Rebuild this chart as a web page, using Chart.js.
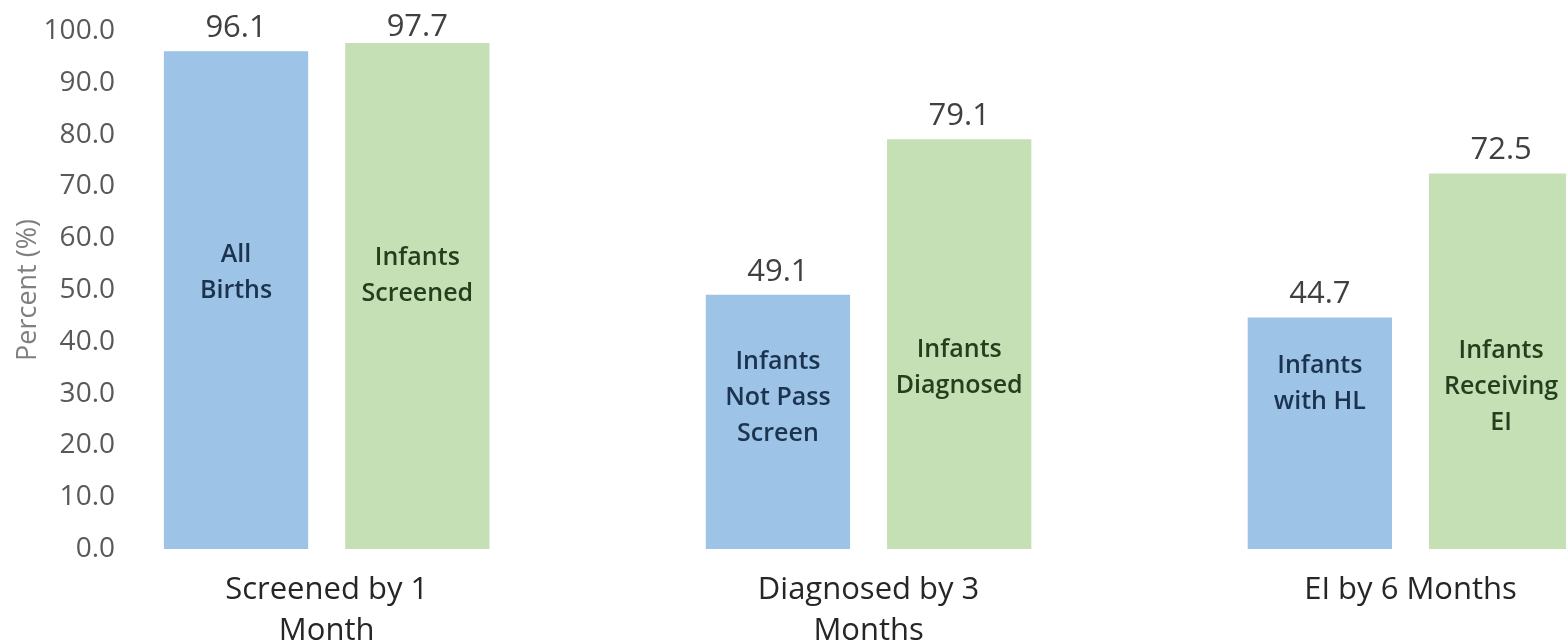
<!DOCTYPE html>
<html lang="en">
<head>
<meta charset="UTF-8">
<title>EHDI 1-3-6</title>
<script src="https://cdn.jsdelivr.net/npm/chart.js@4.4.1/dist/chart.umd.min.js"></script>
<style>
  html, body { margin: 0; padding: 0; background: #fff; overflow: hidden; }
  .wrap { width: 1566px; height: 641px; }
</style>
</head>
<body>
<div class="wrap"><canvas id="ehdiChart"></canvas></div>
<script>
  // chart values
  const categories = [['Screened by 1', 'Month'], ['Diagnosed by 3', 'Months'], 'EI by 6 Months'];
  const denominatorValues = [96.1, 49.1, 44.7];
  const numeratorValues = [97.7, 79.1, 72.5];
  const denominatorNames = [['All', 'Births'], ['Infants', 'Not Pass', 'Screen'], ['Infants', 'with HL']];
  const numeratorNames = [['Infants', 'Screened'], ['Infants', 'Diagnosed'], ['Infants', 'Receiving', 'EI']];
  const yTicks = [0, 10, 20, 30, 40, 50, 60, 70, 80, 90, 100];

  // value labels above bars + names written inside the bars
  const barText = {
    id: 'barText',
    afterDatasetsDraw(chart, args, opts) {
      const ctx = chart.ctx;
      const yScale = chart.scales.y;
      ctx.save();
      ctx.textAlign = 'center';
      chart.data.datasets.forEach((ds, di) => {
        const meta = chart.getDatasetMeta(di);
        meta.data.forEach((bar, i) => {
          ctx.font = '31px "Open Sans"';
          ctx.fillStyle = '#404040';
          ctx.textBaseline = 'alphabetic';
          const ty = Math.max(bar.y - 14, chart.chartArea.top + 5);
          ctx.fillText(ds.data[i].y.toFixed(1), bar.x, ty);

          const lines = ds.names[i];
          const mid = yScale.getPixelForValue(opts.centers[di][i]);
          ctx.font = '600 25px "Open Sans"';
          ctx.fillStyle = ds.textColor;
          ctx.textBaseline = 'middle';
          lines.forEach((ln, k) => {
            ctx.fillText(ln, bar.x, mid + (k - (lines.length - 1) / 2) * 36);
          });
        });
      });
      ctx.restore();
    }
  };

  new Chart(document.getElementById('ehdiChart'), {
    type: 'bar',
    data: {
      datasets: [{
        data: denominatorValues.map((v, i) => ({ x: i, y: v })),
        names: denominatorNames,
        backgroundColor: '#9dc3e6',
        textColor: '#1c3350',
        borderWidth: 0
      }, {
        data: numeratorValues.map((v, i) => ({ x: i, y: v })),
        names: numeratorNames,
        backgroundColor: '#c5e0b4',
        textColor: '#233f1d',
        borderWidth: 0
      }]
    },
    options: {
      responsive: true,
      maintainAspectRatio: false,
      animation: false,
      categoryPercentage: 0.669,
      barPercentage: 0.796,
      layout: { padding: { top: 31, left: 0, right: 0, bottom: 0 } },
      plugins: {
        legend: { display: false },
        tooltip: { enabled: false },
        barText: {
          centers: [[53.3, 29.2, 31.9], [52.7, 34.9, 31.3]]
        }
      },
      scales: {
        x: {
          type: 'linear',
          offset: false,
          bounds: 'data',
          min: -0.374,
          max: 2.287,
          grid: { display: false, offset: false },
          border: { display: false },
          afterBuildTicks: s => {
            s.min = -0.374;
            s.max = 2.287;
            s.ticks = categories.map((c, i) => ({ value: i }));
          },
          afterFit: s => { s.height = 92; },
          ticks: {
            autoSkip: false,
            maxRotation: 0,
            padding: 13,
            color: '#262626',
            font: { family: 'Open Sans', size: 31, lineHeight: 1.32 },
            callback: v => categories[v]
          }
        },
        y: {
          min: 0,
          max: 100,
          grid: { display: false },
          border: { display: false },
          afterBuildTicks: s => { s.ticks = yTicks.map(v => ({ value: v })); },
          afterFit: s => { s.width = 124; },
          ticks: {
            padding: 1,
            color: '#595959',
            font: { family: 'Open Sans', size: 28 },
            callback: v => v.toFixed(1)
          },
          title: {
            display: true,
            text: 'Percent (%)',
            color: '#7f7f7f',
            font: { family: 'Open Sans', size: 27 },
            padding: { top: 12, bottom: 0 }
          }
        }
      }
    },
    plugins: [barText]
  });
</script>
</body>
</html>
